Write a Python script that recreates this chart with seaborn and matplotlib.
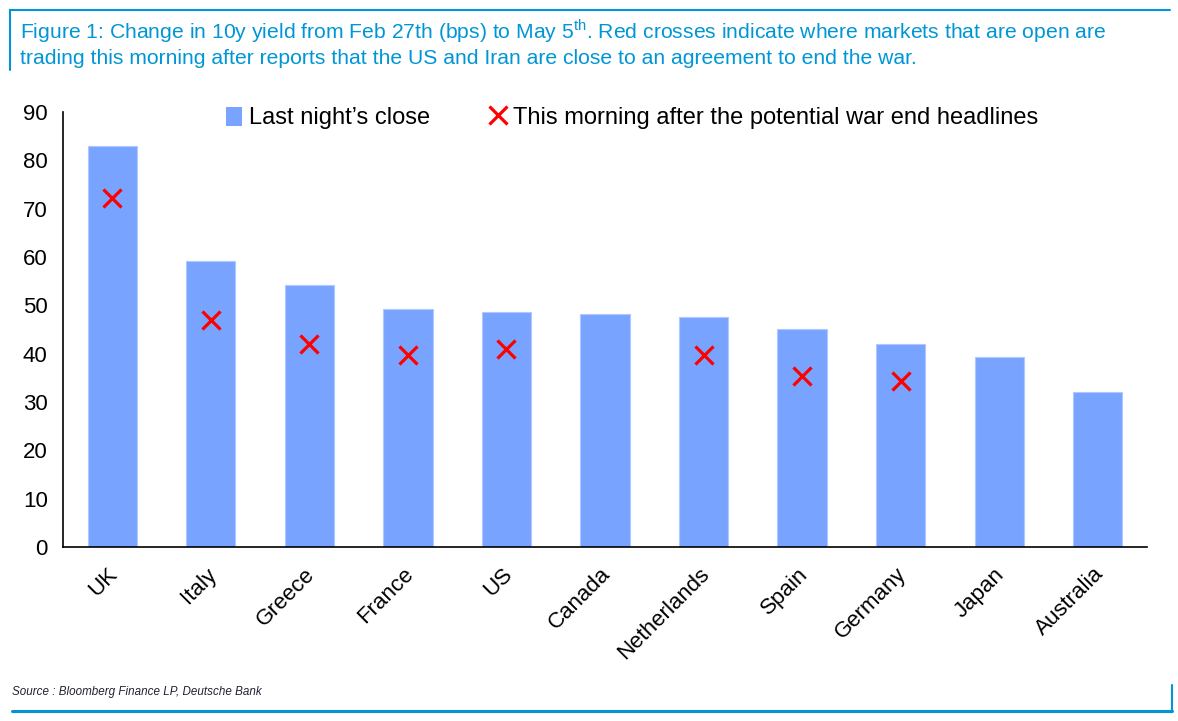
import numpy as np
import pandas as pd
import seaborn as sns
from matplotlib import pyplot as plt
from matplotlib.patches import Patch
from matplotlib.lines import Line2D

countries = ['UK', 'Italy', 'Greece', 'France', 'US', 'Canada', 'Netherlands',
             'Spain', 'Germany', 'Japan', 'Australia']
last_close = [83.0, 59.1, 54.2, 49.3, 48.7, 48.3, 47.5, 45.1, 41.9, 39.3, 32.0]
this_morning = [72.3, 47.0, 42.0, 39.7, 40.9, np.nan, 39.8, 35.3, 34.3, np.nan, np.nan]
y_ticks = [0, 10, 20, 30, 40, 50, 60, 70, 80, 90]

title_line1 = ('Figure 1: Change in 10y yield from Feb 27th (bps) to May 5$^{\\mathrm{th}}$. '
               'Red crosses indicate where markets that are open are')
title_line2 = ('trading this morning after reports that the US and Iran are close to an '
               'agreement to end the war.')
source = 'Source : Bloomberg Finance LP, Deutsche Bank'
bar_label = 'Last night\u2019s close'
cross_label = 'This morning after the potential war end headlines'

sns.set_style('white')
plt.rcParams['font.family'] = ['Liberation Sans', 'DejaVu Sans']
plt.rcParams['mathtext.fontset'] = 'custom'
plt.rcParams['mathtext.rm'] = 'Liberation Sans'
plt.rcParams['text.color'] = 'black'
plt.rcParams['xtick.labelcolor'] = 'black'
plt.rcParams['ytick.labelcolor'] = 'black'

blue = '#0096D6'
bar_col = '#78A4FF'

df = pd.DataFrame({'country': countries, 'close': last_close, 'morning': this_morning})

fig = plt.figure(figsize=(11.78, 7.21), dpi=100)
ax = fig.add_axes([63 / 1178, 1 - 547 / 721, (1147 - 63) / 1178, (547 - 112) / 721])

sns.barplot(data=df, x='country', y='close', order=countries, color=bar_col,
            saturation=1, width=0.5, edgecolor='#AFC8FF', linewidth=0.8, ax=ax)
sns.stripplot(data=df, x='country', y='morning', order=countries, color='red',
              marker='x', size=13, linewidth=2.3, jitter=False, ax=ax, zorder=5)

ax.set_xlim(-0.5, len(countries) - 0.5)
ax.set_ylim(0, 90)
ax.set_yticks(y_ticks)
ax.set_xlabel('')
ax.set_ylabel('')
# labels sit a touch left of the bar centres in the original
ax.set_xticks(np.arange(len(countries)) - 0.05)
ax.set_xticklabels(countries, rotation=45, ha='right', va='top',
                   rotation_mode='anchor', fontsize=16)
ax.set_xticks(np.arange(-0.5, len(countries)), minor=True)
ax.tick_params(axis='x', which='major', length=0, pad=12)
ax.tick_params(axis='x', which='minor', length=7, width=1.2, color='#555555', direction='out')
ax.tick_params(axis='y', length=7, width=1.2, color='#555555', direction='out',
               labelsize=16, pad=4)
for s in ['top', 'right']:
    ax.spines[s].set_visible(False)
for s in ['left', 'bottom']:
    ax.spines[s].set_color('black')
    ax.spines[s].set_linewidth(1.2)

handles = [Patch(facecolor=bar_col, edgecolor='none'),
           Line2D([], [], marker='x', color='red', linestyle='none',
                  markersize=13, markeredgewidth=2.3)]
fig.legend(handles, [bar_label, cross_label], loc='center', ncol=2, frameon=False,
           bbox_to_anchor=(632 / 1178, 1 - 118 / 721), fontsize=17,
           handlelength=0.7, handletextpad=0.3, columnspacing=2.5, handleheight=0.9)

fig.text(20 / 1178, 1 - 31 / 721, title_line1, color=blue, fontsize=15.2, va='center')
fig.text(20 / 1178, 1 - 58 / 721, title_line2, color=blue, fontsize=15.2, va='center')
fig.text(12 / 1178, 1 - 692 / 721, source, fontsize=8.4, style='italic', color='#222233',
         va='center')

# blue frame pieces
fig.add_artist(Line2D([10 / 1178, 1170 / 1178], [1 - 10 / 721, 1 - 10 / 721],
                      color=blue, linewidth=1.5))
fig.add_artist(Line2D([10 / 1178, 10 / 1178], [1 - 10 / 721, 1 - 70 / 721],
                      color=blue, linewidth=1.5))
fig.add_artist(Line2D([12 / 1178, 1172 / 1178], [1 - 711 / 721, 1 - 711 / 721],
                      color=blue, linewidth=2.2))
fig.add_artist(Line2D([1172 / 1178, 1172 / 1178], [1 - 711 / 721, 1 - 685 / 721],
                      color=blue, linewidth=1.5))

fig.savefig('out.png', dpi=100)
